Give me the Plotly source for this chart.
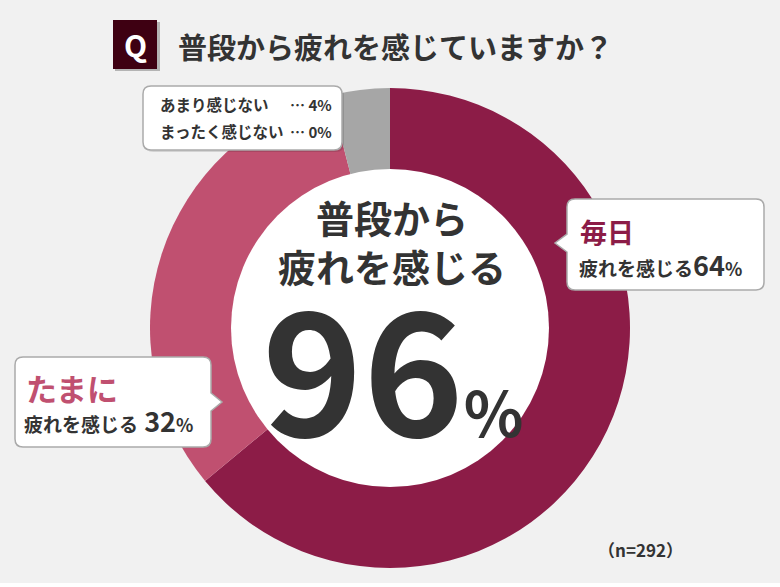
import plotly.graph_objects as go

# survey data
labels = ["毎日疲れを感じる", "たまに疲れを感じる", "あまり感じない", "まったく感じない"]
values = [64, 32, 4, 0]
colors = ["#8C1C47", "#C05070", "#A6A6A6", "#D9D9D9"]
n_total = 292
question = "普段から疲れを感じていますか？"

W, H = 780, 587
FONT = "Noto Sans CJK JP"
TXT = "#333333"
cx, cy, r_out, r_in = 390, 328, 240, 159


def callout(x0, y0, x1, y1, rad=8, tip=None):
    """rounded box path, optional pointer ('left'/'right', y, tip_x)"""
    p = f"M {x0+rad},{y0} L {x1-rad},{y0} Q {x1},{y0} {x1},{y0+rad} "
    if tip and tip[0] == "right":
        ty, tx = tip[1], tip[2]
        p += f"L {x1},{ty-9} L {tx},{ty} L {x1},{ty+9} "
    p += f"L {x1},{y1-rad} Q {x1},{y1} {x1-rad},{y1} L {x0+rad},{y1} Q {x0},{y1} {x0},{y1-rad} "
    if tip and tip[0] == "left":
        ty, tx = tip[1], tip[2]
        p += f"L {x0},{ty+9} L {tx},{ty} L {x0},{ty-9} "
    p += f"L {x0},{y0+rad} Q {x0},{y0} {x0+rad},{y0} Z"
    return p


fig = go.Figure()

# invisible trace so the pixel-space axes exist
fig.add_trace(go.Scatter(x=[0, W], y=[0, H], mode="markers", marker=dict(opacity=0),
                         hoverinfo="skip", showlegend=False))

fig.add_trace(go.Pie(
    labels=labels, values=values, sort=False, direction="clockwise", rotation=0,
    marker=dict(colors=colors, line=dict(width=0)),
    textinfo="none", hoverinfo="label+percent", showlegend=False,
    domain=dict(x=[(cx - r_out) / W, (cx + r_out) / W],
                y=[(H - cy - r_out) / H, (H - cy + r_out) / H]),
))

shapes = [
    # white strip at the very bottom
    dict(type="rect", x0=0, x1=W, y0=583, y1=H, fillcolor="white", line_width=0, layer="below"),
    # inner white disc
    dict(type="circle", x0=cx - r_in, x1=cx + r_in, y0=cy - r_in, y1=cy + r_in,
         fillcolor="white", line_width=0, layer="above"),
    # Q badge with shadow
    dict(type="rect", x0=115, x1=160, y0=22, y1=71, fillcolor="rgba(0,0,0,0.25)", line_width=0, layer="above"),
    dict(type="rect", x0=113, x1=157, y0=20, y1=69, fillcolor="#3E0012", line_width=0, layer="above"),
    # small box (top-left)
    dict(type="path", path=callout(145, 88, 344, 152), fillcolor="rgba(0,0,0,0.12)", line_width=0, layer="above"),
    dict(type="path", path=callout(143, 86, 342, 150), fillcolor="white",
         line=dict(color="#AAAAAA", width=1.5), layer="above"),
    # right box
    dict(type="path", path=callout(567, 199, 764, 290, tip=("left", 243, 555)), fillcolor="white",
         line=dict(color="#AAAAAA", width=1.5), layer="above"),
    # left box
    dict(type="path", path=callout(15, 357, 211, 447, tip=("right", 402, 222)), fillcolor="white",
         line=dict(color="#AAAAAA", width=1.5), layer="above"),
]

ann = []


def add_text(x, y, text, size, color=TXT, xanchor="left"):
    ann.append(dict(x=x, y=y, xref="x", yref="y", text=text, showarrow=False,
                    xanchor=xanchor, yanchor="middle",
                    font=dict(family=FONT, size=size, color=color)))


add_text(135, 44, "<b>Q</b>", 30, "white", "center")
add_text(176, 46, f"<b>{question}</b>", 29)

# centre
add_text(392, 241, "<b>普段から<br>疲れを感じる</b>", 38, xanchor="center")
total = values[0] + values[1]
add_text(393, 362, f"<b>{total}<span style='font-size:62px'>%</span></b>", 171, xanchor="center")

# right box
add_text(578, 231, "<b>毎日</b>", 27, colors[0])
add_text(577, 264, f"<b>疲れを感じる<span style='font-size:27px'>{values[0]}</span>"
                   f"<span style='font-size:18px'>%</span></b>", 19)

# left box
add_text(24, 387, "<b>たまに</b>", 31, colors[1])
add_text(22, 420, f"<b>疲れを感じる<span style='font-size:27px'> {values[1]}</span>"
                  f"<span style='font-size:18px'>%</span></b>", 19)

# small box
add_text(158, 104, f"<b>{labels[2]}</b>", 15.5)
add_text(158, 131, f"<b>{labels[3]}</b>", 15.5)
add_text(334, 104, f"<b>… {values[2]}%</b>", 15, xanchor="right")
add_text(334, 131, f"<b>… {values[3]}%</b>", 15, xanchor="right")

add_text(640, 549, f"<b>（n={n_total}）</b>", 17, xanchor="center")

fig.update_layout(
    width=W, height=H,
    margin=dict(l=0, r=0, t=0, b=0),
    paper_bgcolor="#F1F1F1", plot_bgcolor="rgba(0,0,0,0)",
    xaxis=dict(range=[0, W], visible=False, fixedrange=True),
    yaxis=dict(range=[H, 0], visible=False, fixedrange=True),
    shapes=shapes, annotations=ann,
)

fig.write_html("out.html", config={"displayModeBar": False},
               post_script="document.body.style.margin='0';")
